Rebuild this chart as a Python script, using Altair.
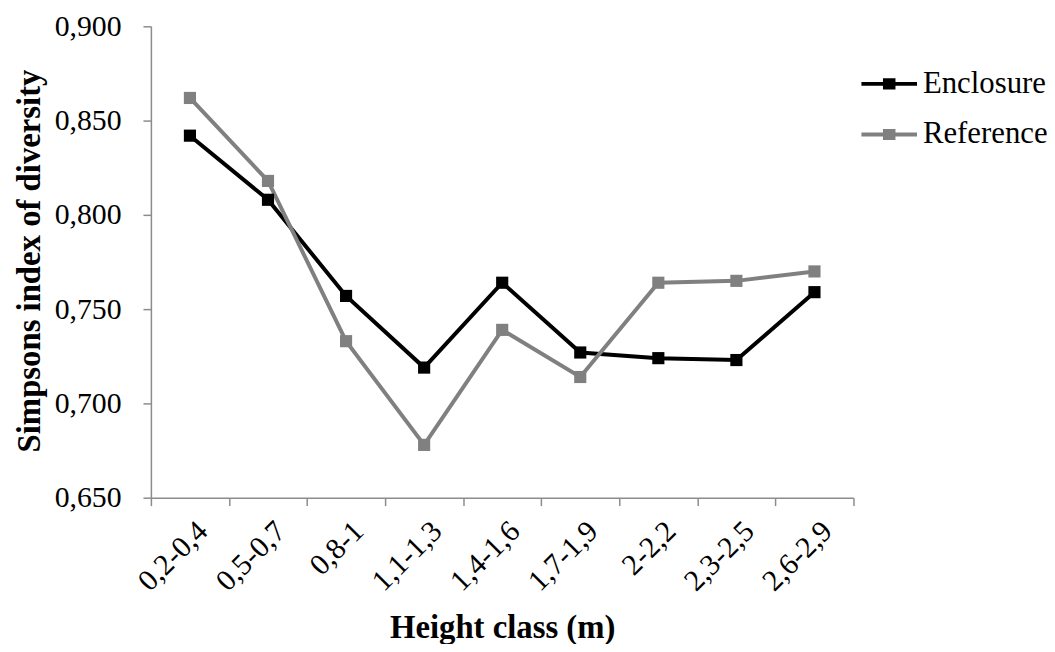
import altair as alt
import pandas as pd

categories = ["0,2-0,4", "0,5-0,7", "0,8-1", "1,1-1,3", "1,4-1,6", "1,7-1,9", "2-2,2", "2,3-2,5", "2,6-2,9"]
enclosure = [0.842, 0.808, 0.757, 0.719, 0.764, 0.727, 0.724, 0.723, 0.759]
reference = [0.862, 0.818, 0.733, 0.678, 0.739, 0.714, 0.764, 0.765, 0.770]
series = ["Enclosure", "Reference"]
colors = ["#000000", "#808080"]
y_ticks = [0.65, 0.70, 0.75, 0.80, 0.85, 0.90]

rows = []
for c, v in zip(categories, enclosure):
    rows.append({"cls": c, "val": v, "series": "Enclosure"})
for c, v in zip(categories, reference):
    rows.append({"cls": c, "val": v, "series": "Reference"})
df = pd.DataFrame(rows)

FONT = "'Liberation Serif', 'Times New Roman', Times, serif"

legend_path = ("M-1,0L1,0"
               "M-0.225,-0.13L0.225,-0.13"
               "M-0.225,-0.065L0.225,-0.065"
               "M-0.225,0L0.225,0"
               "M-0.225,0.065L0.225,0.065"
               "M-0.225,0.13L0.225,0.13")

x_enc = alt.X(
    "cls:N",
    sort=categories,
    scale=alt.Scale(type="band", paddingInner=0, paddingOuter=0),
    axis=alt.Axis(
        title="Height class (m)",
        tickBand="extent",
        labelAngle=-45,
        labelAlign="right",
        labelBaseline="top",
        labelOffset=2,
        labelPadding=10,
        titleX=354,
        titleY=141,
        titleAlign="center",
        titleBaseline="alphabetic",
    ),
)
y_enc = alt.Y(
    "val:Q",
    scale=alt.Scale(domain=[0.65, 0.90], nice=False, zero=False),
    axis=alt.Axis(
        title="Simpsons index of diversity",
        values=y_ticks,
        labelExpr="replace(format(datum.value, '.3f'), '.', ',')",
        labelPadding=22,
        titleX=-112,
        titleY=236,
        titleAlign="center",
        titleAngle=270,
        titleBaseline="alphabetic",
    ),
)
color_enc = alt.Color(
    "series:N",
    scale=alt.Scale(domain=series, range=colors),
    legend=alt.Legend(
        title=None,
        orient="none",
        legendX=714,
        legendY=28,
        symbolType=legend_path,
        symbolSize=3136,
        symbolStrokeWidth=4,
        labelOffset=4,
        rowPadding=6,
        padding=0,
    ),
)

lines = alt.Chart(df).mark_line(strokeWidth=4).encode(x=x_enc, y=y_enc, color=color_enc)
points = alt.Chart(df).mark_point(shape="square", filled=True, size=150, opacity=1).encode(
    x=x_enc, y=y_enc, color=alt.Color("series:N", scale=alt.Scale(domain=series, range=colors), legend=None)
)

chart = (
    alt.layer(lines, points)
    .properties(
        width=708,
        height=475,
        autosize=alt.AutoSizeParams(type="none"),
        padding={"left": 144, "top": 16, "right": 195, "bottom": 145},
    )
    .configure_view(stroke=None)
    .configure_axis(
        grid=False,
        domainColor="#8c8c8c",
        domainWidth=1.5,
        tickColor="#8c8c8c",
        tickWidth=1.5,
        tickSize=8,
        labelFont=FONT,
        labelFontSize=30,
        labelColor="#000000",
        titleFont=FONT,
        titleFontSize=33,
        titleFontWeight="bold",
        titleColor="#000000",
    )
    .configure_legend(
        labelFont=FONT,
        labelFontSize=31,
        labelColor="#000000",
    )
)

chart.save("out.html", embed_options={"renderer": "svg", "actions": False})
